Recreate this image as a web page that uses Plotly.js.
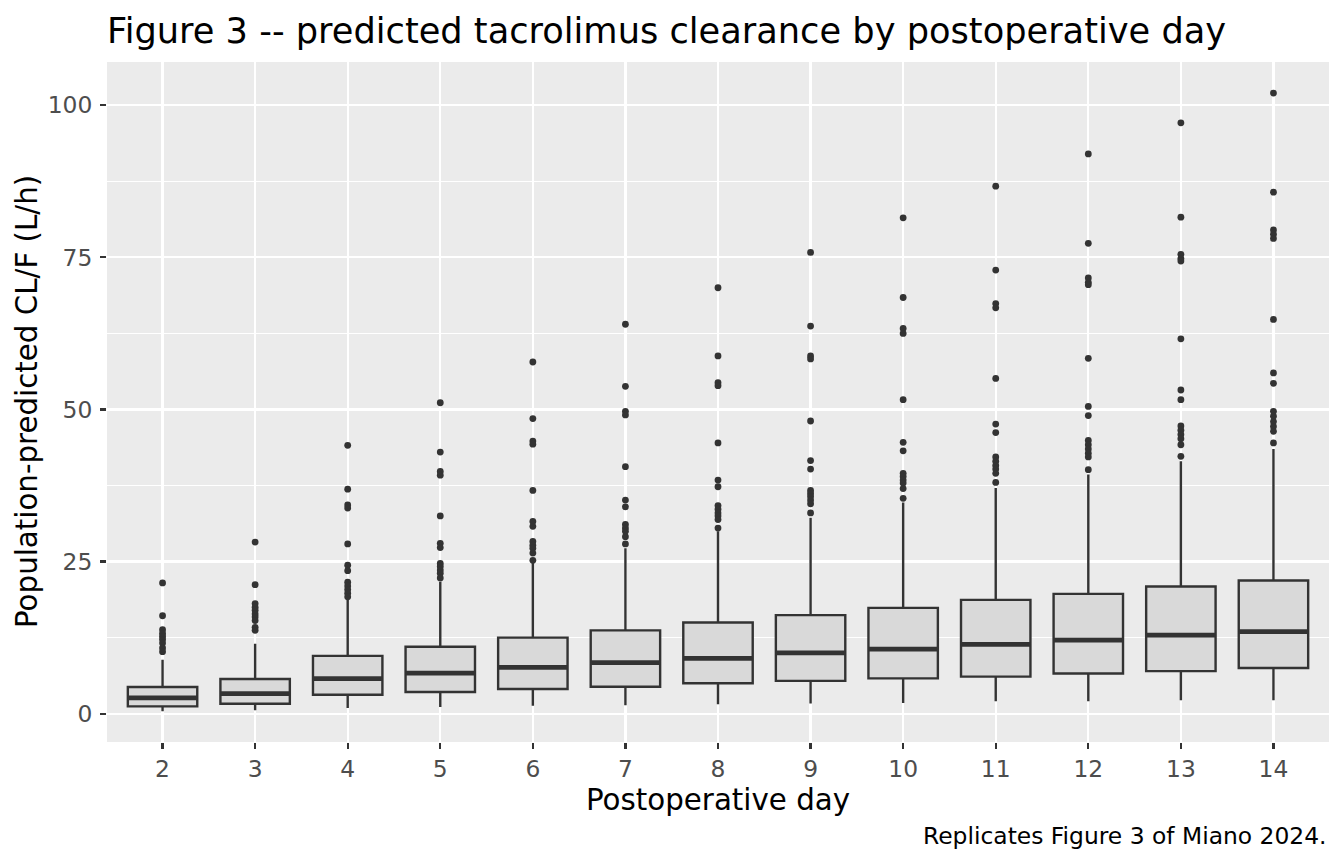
<!DOCTYPE html>
<html>
<head>
<meta charset="utf-8">
<script src="https://cdn.plot.ly/plotly-3.0.1.min.js"></script>
<style>
  html, body { margin: 0; padding: 0; background: #ffffff; }
  #chart { width: 1344px; height: 864px; }
</style>
</head>
<body>
<div id="chart"></div>
<script>
// box summaries, one entry per postoperative day
const days = [2, 3, 4, 5, 6, 7, 8, 9, 10, 11, 12, 13, 14];
const q1 = [1.2, 1.64, 3.12, 3.56, 4.05, 4.43, 5.0, 5.4, 5.8, 6.1, 6.6, 7.0, 7.5];
const medians = [2.6, 3.3, 5.75, 6.68, 7.6, 8.4, 9.1, 10.0, 10.6, 11.4, 12.1, 12.9, 13.5];
const q3 = [4.38, 5.7, 9.5, 11.0, 12.5, 13.7, 15.0, 16.2, 17.4, 18.7, 19.7, 20.9, 21.9];
const lowerWhisker = [0.4, 0.55, 0.93, 1.1, 1.3, 1.38, 1.55, 1.66, 1.77, 2.04, 2.04, 2.23, 2.23];
const upperWhisker = [8.87, 11.5, 18.7, 21.7, 24.8, 27.2, 30.0, 32.2, 34.7, 37.1, 39.3, 41.5, 43.5];

// outlying points per day (same order as days)
const outliers = [
  [21.5, 16.1, 13.8, 13.2, 12.7, 12.2, 11.6, 10.8, 10.2],
  [28.2, 21.2, 18.1, 17.5, 17.0, 16.4, 15.9, 15.3, 14.2, 13.7],
  [44.1, 36.9, 34.3, 33.8, 27.9, 24.4, 23.5, 21.6, 21.0, 20.4, 19.8, 19.2],
  [51.1, 43.0, 39.8, 39.2, 32.5, 28.0, 27.3, 24.7, 24.2, 23.6, 23.1, 22.3],
  [57.8, 48.5, 44.8, 44.3, 36.7, 31.6, 30.8, 28.3, 27.7, 27.2, 26.4, 25.2],
  [64.0, 53.8, 49.7, 49.1, 40.6, 35.1, 34.0, 31.1, 30.5, 30.0, 29.1, 27.9],
  [70.0, 58.8, 54.4, 53.9, 44.5, 38.4, 37.3, 34.2, 33.6, 33.0, 32.5, 31.9, 30.5],
  [75.8, 63.7, 58.8, 58.3, 48.1, 41.6, 40.2, 36.7, 36.2, 35.7, 35.1, 34.5, 33.0],
  [81.5, 68.4, 63.3, 62.5, 51.6, 44.6, 43.2, 39.5, 39.0, 38.4, 37.9, 37.0, 35.4],
  [86.7, 72.9, 67.4, 66.7, 55.1, 47.6, 46.2, 42.2, 41.5, 40.8, 40.2, 39.5, 38.0],
  [92.0, 77.3, 71.6, 70.9, 70.5, 58.4, 50.5, 49.0, 44.9, 44.2, 43.5, 42.8, 42.2, 40.1],
  [97.1, 81.6, 75.5, 74.8, 74.4, 61.6, 53.2, 51.6, 47.3, 46.6, 45.9, 45.2, 44.2, 42.3],
  [102.0, 85.7, 79.5, 78.8, 78.1, 64.8, 56.0, 54.3, 49.7, 48.9, 48.0, 47.2, 46.4, 44.5]
];

const yTicks = [0, 25, 50, 75, 100];

const boxWidth = 0.75;
const ink = '#333333';
const font = 'DejaVu Sans, sans-serif';

// boxes from the precomputed stats
let boxes = {
  type: 'box',
  x: days,
  q1: q1,
  median: medians,
  q3: q3,
  lowerfence: lowerWhisker,
  upperfence: upperWhisker,
  boxpoints: false,
  width: boxWidth,
  whiskerwidth: 0,
  fillcolor: '#d9d9d9',
  line: {color: ink, width: 2.4},
  hoverinfo: 'skip'
};

// thicker median bar, like ggplot's fatten
let medX = [], medY = [];
for (let i = 0; i < days.length; i++) {
  medX.push(days[i] - boxWidth / 2, days[i] + boxWidth / 2, null);
  medY.push(medians[i], medians[i], null);
}
let medianBars = {
  type: 'scatter',
  mode: 'lines',
  x: medX,
  y: medY,
  line: {color: ink, width: 4.8},
  hoverinfo: 'skip'
};

// outlier dots
let outX = [], outY = [];
for (let i = 0; i < days.length; i++) {
  for (let j = 0; j < outliers[i].length; j++) {
    outX.push(days[i]);
    outY.push(outliers[i][j]);
  }
}
let outlierDots = {
  type: 'scatter',
  mode: 'markers',
  x: outX,
  y: outY,
  marker: {color: ink, size: 6.8},
  hoverinfo: 'skip'
};

let layout = {
  width: 1344,
  height: 864,
  margin: {l: 107, r: 15, t: 62, b: 122},
  paper_bgcolor: '#ffffff',
  plot_bgcolor: '#ebebeb',
  showlegend: false,
  font: {family: font, color: '#000000'},
  title: {
    text: 'Figure 3 -- predicted tacrolimus clearance by postoperative day',
    font: {family: font, size: 35.2, color: '#000000'},
    x: 0,
    xref: 'paper',
    xanchor: 'left',
    y: 1 - 31 / 864,
    yref: 'container',
    yanchor: 'middle'
  },
  xaxis: {
    range: [1.4, 14.6],
    tickvals: days,
    ticktext: days.map(String),
    showgrid: true,
    gridcolor: '#ffffff',
    gridwidth: 2.3,
    zeroline: false,
    showline: false,
    ticks: 'outside',
    ticklen: 6,
    tickwidth: 2.2,
    tickcolor: ink,
    tickfont: {family: font, size: 23.4, color: '#4d4d4d'},
    fixedrange: true
  },
  yaxis: {
    range: [-4.65, 107.1],
    tickvals: yTicks,
    ticktext: yTicks.map(String),
    showgrid: true,
    gridcolor: '#ffffff',
    gridwidth: 2.3,
    minor: {dtick: 12.5, tick0: 0, showgrid: true, gridcolor: '#ffffff', gridwidth: 1.2, ticks: ''},
    zeroline: false,
    showline: false,
    ticks: 'outside',
    ticklen: 6,
    tickwidth: 2.2,
    tickcolor: ink,
    ticklabelstandoff: 3,
    tickfont: {family: font, size: 23.4, color: '#4d4d4d'},
    fixedrange: true
  },
  annotations: [
    {
      text: 'Postoperative day',
      xref: 'paper', yref: 'paper',
      x: 0.5, y: (742 - 800) / 680,
      xanchor: 'center', yanchor: 'middle',
      showarrow: false,
      font: {family: font, size: 29.3, color: '#000000'}
    },
    {
      text: 'Population-predicted CL/F (L/h)',
      xref: 'paper', yref: 'paper',
      x: (27 - 107) / 1222, y: 0.5,
      xanchor: 'center', yanchor: 'middle',
      textangle: -90,
      showarrow: false,
      font: {family: font, size: 29.3, color: '#000000'}
    },
    {
      text: 'Replicates Figure 3 of Miano 2024.',
      xref: 'paper', yref: 'paper',
      x: 1, y: (742 - 836) / 680,
      xanchor: 'right', yanchor: 'middle',
      showarrow: false,
      font: {family: font, size: 23.4, color: '#000000'}
    }
  ]
};

Plotly.newPlot('chart', [boxes, medianBars, outlierDots], layout, {displayModeBar: false, staticPlot: true});
</script>
</body>
</html>
